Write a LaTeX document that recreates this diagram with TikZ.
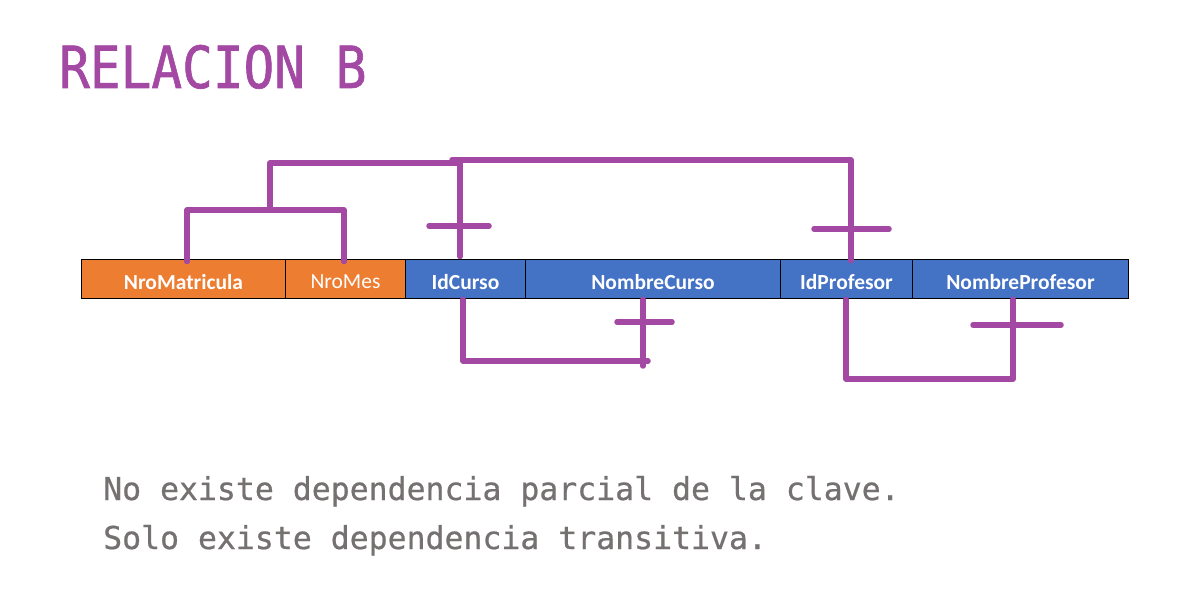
\documentclass[tikz,border=0pt]{standalone}
\usepackage{fontspec}
\setmainfont{Carlito}
\newfontfamily\monofnt{DejaVu Sans Mono}
\usetikzlibrary{calc}
\definecolor{purp}{HTML}{A349A4}
\definecolor{orng}{HTML}{ED7D31}
\definecolor{blu}{HTML}{4472C4}
\definecolor{txtgray}{HTML}{767171}
\newcommand{\lowtxt}[1]{\raisebox{-2.5pt}[\height][\depth]{#1}}
\tikzset{
  cell/.style={draw=black, line width=1pt, minimum height=39pt, inner sep=0pt, anchor=west, text=white, font=\fontsize{21.5}{21.5}\selectfont\bfseries},
  dep/.style={draw=purp, line width=5.5pt, line cap=round, line join=round},
}
\begin{document}
\begin{tikzpicture}[x=1pt,y=-1pt]
\fill[white] (0,0) rectangle (1178,601);
\useasboundingbox (0,0) rectangle (1178,601);
% title
\node[anchor=base west, inner sep=0pt, text=purp] (title) at (59,88)
  {\scalebox{0.88}[1]{\monofnt\fontsize{58}{58}\selectfont\addfontfeature{FakeBold=1.2}RELACION B}};
% table
\node[cell, fill=orng, minimum width=204pt] (nm) at (81,279.5) {\lowtxt{NroMatricula}};
\node[cell, fill=orng, minimum width=120pt, font=\fontsize{21.5}{21.5}\selectfont] (nmes) at (285,279.5) {\lowtxt{NroMes}};
\node[cell, fill=blu, minimum width=120pt] (ic) at (405,279.5) {\lowtxt{IdCurso}};
\node[cell, fill=blu, minimum width=255pt] (nc) at (525,279.5) {\lowtxt{NombreCurso}};
\node[cell, fill=blu, minimum width=132pt] (ip) at (780,279.5) {\lowtxt{IdProfesor}};
\node[cell, fill=blu, minimum width=216pt] (np) at (912,279.5) {\lowtxt{NombreProfesor}};
% key bracket
\coordinate (kL) at (187,210);
\coordinate (kR) at (344,210);
\coordinate (kM) at (270,210);
\coordinate (t1) at (270,163);
\coordinate (t2) at (460,163);
\coordinate (t3) at (452,160);
\coordinate (t4) at (851,160);
\draw[dep] ($(nm.north -| kL)+(0,2)$) -- (kL) -- (kR) -- ($(nmes.north -| kR)+(0,2)$);
\draw[dep] (kM) -- (t1) -- (t2);
\draw[dep] (t3) -- (t4) -- ($(ip.north -| t4)+(0,1)$);
\draw[dep] (460,160) -- ($(ic.north -| t2)+(0,-3)$);
% crossbars on top
\draw[dep] (429,226) -- (489,226);
\draw[dep] (814,229) -- (889,229);
% IdCurso -> NombreCurso
\coordinate (b1) at (463,361);
\coordinate (b2) at (648,361);
\coordinate (b3) at (643,366);
\draw[dep] (ic.south -| b1) -- (b1) -- (b2);
\draw[dep] (nc.south -| b3) -- (b3);
\draw[dep] (617,322) -- (672,322);
% IdProfesor -> NombreProfesor
\coordinate (c1) at (846,379);
\coordinate (c2) at (1013,379);
\draw[dep] (ip.south -| c1) -- (c1) -- (c2) -- (np.south -| c2);
\draw[dep] (973,325) -- (1061,325);
% bottom text
\node[anchor=base west, inner sep=0pt, text=txtgray, font=\monofnt\fontsize{31.5}{31.5}\selectfont\addfontfeature{FakeBold=0.6}] (l1) at (103,500) {No existe dependencia parcial de la clave.};
\node[anchor=base west, inner sep=0pt, text=txtgray, font=\monofnt\fontsize{31.5}{31.5}\selectfont\addfontfeature{FakeBold=0.6}] (l2) at (103,549) {Solo existe dependencia transitiva.};
\end{tikzpicture}
\end{document}
